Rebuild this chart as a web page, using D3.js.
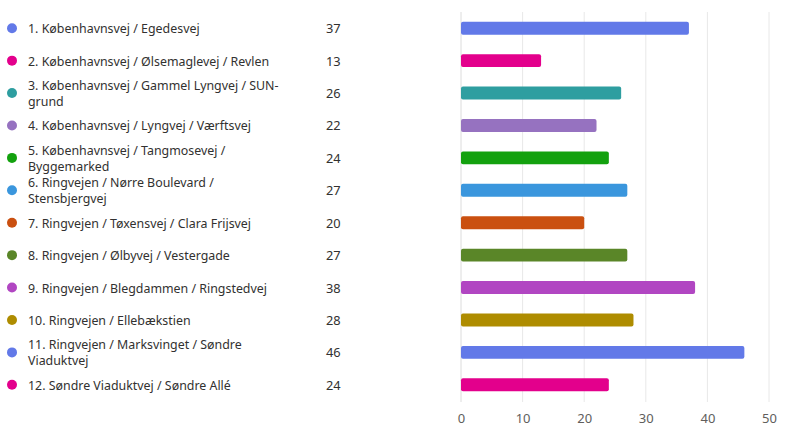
<!DOCTYPE html>
<html>
<head>
<meta charset="utf-8">
<script src="https://cdn.jsdelivr.net/npm/d3@7"></script>
<style>
  body { margin: 0; background: #fff; }
  svg { display: block; font-family: "Noto Sans", "Open Sans", sans-serif; }
</style>
</head>
<body>
<svg id="chart"></svg>
<script>
// Answer options (line breaks as shown in the chart)
const categories = [
  "1. Københavnsvej / Egedesvej",
  "2. Københavnsvej / Ølsemaglevej / Revlen",
  "3. Københavnsvej / Gammel Lyngvej / SUN-\ngrund",
  "4. Københavnsvej / Lyngvej / Værftsvej",
  "5. Københavnsvej / Tangmosevej /\nByggemarked",
  "6. Ringvejen / Nørre Boulevard /\nStensbjergvej",
  "7. Ringvejen / Tøxensvej / Clara Frijsvej",
  "8. Ringvejen / Ølbyvej / Vestergade",
  "9. Ringvejen / Blegdammen / Ringstedvej",
  "10. Ringvejen / Ellebækstien",
  "11. Ringvejen / Marksvinget / Søndre\nViaduktvej",
  "12. Søndre Viaduktvej / Søndre Allé",
];
const counts = [37, 13, 26, 22, 24, 27, 20, 27, 38, 28, 46, 24];
const colors = [
  "#6279e8", "#e3008c", "#2e9ea0", "#9672c0", "#13a10e", "#3a96dd",
  "#ca5010", "#5a8628", "#b146c2", "#ae8c00", "#6279e8", "#e3008c",
];
const xTicks = [0, 10, 20, 30, 40, 50];

const width = 800;
const height = 439;

const svg = d3.select("#chart").attr("width", width).attr("height", height);

const data = categories.map((c, i) => ({ label: c, value: counts[i], color: colors[i] }));

// Scales
const x = d3.scaleLinear().domain([0, 50]).range([461, 769]);
const y = d3
  .scaleBand()
  .domain(d3.range(data.length))
  .range([12, 401])
  .paddingInner(0.6)
  .paddingOuter(0.3);

// Grid lines
svg
  .append("g")
  .selectAll("line")
  .data(xTicks)
  .enter()
  .append("line")
  .attr("x1", (d) => x(d))
  .attr("x2", (d) => x(d))
  .attr("y1", 12)
  .attr("y2", 402)
  .attr("stroke", (d) => (d === 0 ? "#dcdcdc" : "#e8e8e8"))
  .attr("stroke-width", 1);

// Axis labels
const xAxis = svg
  .append("g")
  .attr("transform", "translate(0,411)")
  .call(d3.axisBottom(x).tickValues(xTicks).tickSize(0).tickPadding(3));
xAxis.select(".domain").remove();
xAxis
  .selectAll("text")
  .attr("font-size", "13px")
  .attr("fill", "#605e5c")
  .attr("font-family", "Noto Sans, sans-serif");

// Bars
svg
  .append("g")
  .selectAll("rect")
  .data(data)
  .enter()
  .append("rect")
  .attr("x", x(0))
  .attr("y", (d, i) => y(i))
  .attr("width", (d) => x(d.value) - x(0))
  .attr("height", y.bandwidth())
  .attr("rx", 2)
  .attr("fill", (d) => d.color);

// Legend rows
const rows = svg
  .append("g")
  .selectAll("g")
  .data(data)
  .enter()
  .append("g")
  .attr("transform", (d, i) => `translate(0,${y(i) + y.bandwidth() / 2})`);

rows
  .append("circle")
  .attr("cx", 12)
  .attr("cy", 0)
  .attr("r", 5)
  .attr("fill", (d) => d.color);

rows
  .append("text")
  .attr("x", 28)
  .attr("font-size", "12.4px")
  .attr("fill", "#323130")
  .attr("dominant-baseline", "central")
  .each(function (d) {
    const lines = d.label.split("\n");
    const t = d3.select(this);
    lines.forEach((ln, k) => {
      t.append("tspan")
        .attr("x", 28)
        .attr("y", (k - (lines.length - 1) / 2) * 16)
        .text(ln);
    });
  });

rows
  .append("text")
  .attr("x", 326)
  .attr("y", 0)
  .attr("font-size", "12.8px")
  .attr("fill", "#323130")
  .attr("dominant-baseline", "central")
  .text((d) => d.value);
</script>
</body>
</html>
